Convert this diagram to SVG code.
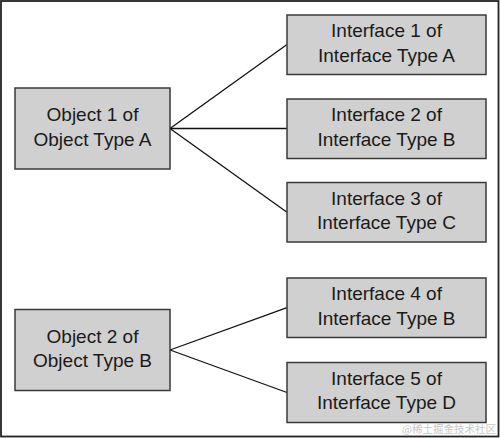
<svg xmlns="http://www.w3.org/2000/svg" width="500" height="438" viewBox="0 0 500 438">
<style>
.box{fill:#d0d0d0;stroke:#3a3a3a;stroke-width:1.5}
.t{font-family:"Liberation Sans",Arial,sans-serif;font-size:19px;fill:#1a1a1a;text-anchor:middle}
.c{stroke:#111;stroke-width:1.3;fill:none}
</style>
<rect x="1" y="1" width="497.5" height="435.5" fill="#fff" stroke="#222" stroke-width="1.8"/>
<g id="connectors">
<line class="c" x1="170" y1="128.5" x2="287" y2="44.5"/>
<line class="c" x1="170" y1="128.5" x2="287" y2="128.5"/>
<line class="c" x1="170" y1="128.5" x2="287" y2="212.3"/>
<line class="c" x1="170" y1="350" x2="287" y2="307.7"/>
<line class="c" x1="170" y1="350" x2="287" y2="392.5"/>
</g>
<g id="obj1"><rect class="box" x="15" y="88" width="155" height="81"/><text class="t" x="92.5" y="121">Object 1 of</text><text class="t" x="92.5" y="145.5">Object Type A</text></g>
<g id="obj2"><rect class="box" x="15" y="309.5" width="155" height="81"/><text class="t" x="92.5" y="342.5">Object 2 of</text><text class="t" x="92.5" y="367">Object Type B</text></g>
<g id="if1"><rect class="box" x="287" y="15" width="199" height="59.5"/><text class="t" x="386.5" y="37">Interface 1 of</text><text class="t" x="386.5" y="61.5">Interface Type A</text></g>
<g id="if2"><rect class="box" x="287" y="99" width="199" height="59.5"/><text class="t" x="386.5" y="121">Interface 2 of</text><text class="t" x="386.5" y="145.5">Interface Type B</text></g>
<g id="if3"><rect class="box" x="287" y="182.5" width="199" height="59.5"/><text class="t" x="386.5" y="204.5">Interface 3 of</text><text class="t" x="386.5" y="229">Interface Type C</text></g>
<g id="if4"><rect class="box" x="287" y="278" width="199" height="59.5"/><text class="t" x="386.5" y="300">Interface 4 of</text><text class="t" x="386.5" y="324.5">Interface Type B</text></g>
<g id="if5"><rect class="box" x="287" y="362.5" width="199" height="60"/><text class="t" x="386.5" y="384.5">Interface 5 of</text><text class="t" x="386.5" y="409">Interface Type D</text></g>
<text x="496" y="433" font-family="'Noto Sans CJK SC',sans-serif" font-size="10.5" fill="#c8c8c8" text-anchor="end">@稀土掘金技术社区</text>
</svg>
